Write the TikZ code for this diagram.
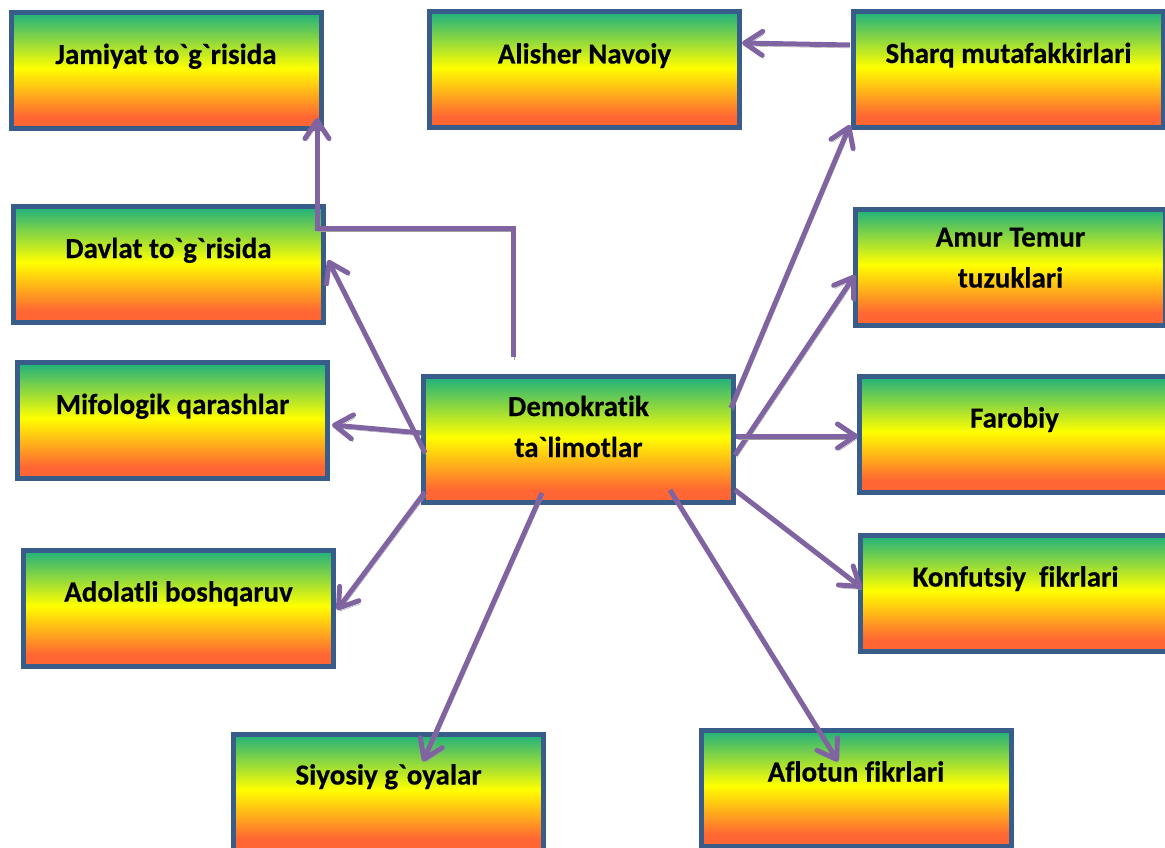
\documentclass[tikz,border=0pt]{standalone}
\usepackage{fontspec}
\newfontfamily\boxfont{Carlito}[Ligatures={TeXOff,CommonOff}, BoldFeatures={FakeBold=0.4}]
\usetikzlibrary{arrows.meta,positioning}

\definecolor{boxblue}{RGB}{56,93,138}
\definecolor{linkpurple}{RGB}{128,100,162}
\definecolor{topgreen}{RGB}{28,176,126}
\definecolor{botred}{RGB}{255,102,51}
\definecolor{shadowgray}{RGB}{160,160,160}

% green on top, yellow in the middle, red-orange at the bottom
\pgfdeclareverticalshading{boxfill}{100bp}{color(0bp)=(botred); color(25bp)=(botred); color(30bp)=(botred); color(51bp)=(yellow); color(75bp)=(topgreen); color(100bp)=(topgreen)}

\tikzset{
  box/.style={draw=boxblue, line width=5pt, shade, shading=boxfill,
    minimum width=310pt, minimum height=116pt, inner sep=0pt},
  boxtext/.style={font=\boxfont\bfseries\fontsize{29}{41}\selectfont,
    align=center, inner sep=0pt, anchor=base},
  link/.style={draw=linkpurple, line width=5pt,
    -{Straight Barb[length=18pt,width=24pt,round]},
    preaction={draw=shadowgray, transform canvas={shift={(1.5pt,-3pt)}}}}
}

\begin{document}
\begin{tikzpicture}[x=1pt,y=-1pt]
\useasboundingbox (0,0) rectangle (1165,848);

% Boxes
\node[box] (jamiyat) at (166,70.5) {};
\node[box] (navoiy) at (584.5,70) {};
\node[box] (sharq) at (1008.5,69.5) {};
\node[box] (davlat) at (168.5,264.5) {};
\node[box] (amur) at (1010.5,267) {};
\node[box] (mifologik) at (172.5,420.5) {};
\node[box, minimum height=126pt] (demo) at (578.5,439.5) {};
\node[box] (farobiy) at (1014.5,434) {};
\node[box] (adolatli) at (178.5,608) {};
\node[box] (konfutsiy) at (1015.5,593) {};
\node[box] (siyosiy) at (388.5,792) {};
\node[box] (aflotun) at (856,788) {};

% Texts (anchored at the baseline of the last line)
\node[boxtext] (jamiyat-t) at ([yshift=-54pt]jamiyat.north) {Jamiyat to`g`risida};
\node[boxtext] (navoiy-t) at ([yshift=-54pt]navoiy.north) {Alisher Navoiy};
\node[boxtext] (sharq-t) at ([yshift=-54pt]sharq.north) {Sharq mutafakkirlari};
\node[boxtext] (davlat-t) at ([yshift=-54pt]davlat.north) {Davlat to`g`risida};
\node[boxtext] (amur-t) at ([yshift=-81pt]amur.north) {Amur Temur\\tuzuklari};
\node[boxtext] (mifologik-t) at ([yshift=-54pt]mifologik.north) {Mifologik qarashlar};
\node[boxtext] (demo-t) at ([yshift=-83pt]demo.north) {Demokratik\\ta`limotlar};
\node[boxtext] (farobiy-t) at ([yshift=-54pt]farobiy.north) {Farobiy};
\node[boxtext] (adolatli-t) at ([yshift=-54pt]adolatli.north) {Adolatli boshqaruv};
\node[boxtext] (konfutsiy-t) at ([yshift=-54pt]konfutsiy.north) {Konfutsiy\ \ fikrlari};
\node[boxtext] (siyosiy-t) at ([yshift=-53pt]siyosiy.north) {Siyosiy g`oyalar};
\node[boxtext] (aflotun-t) at ([yshift=-54pt]aflotun.north) {Aflotun fikrlari};

% Links
\coordinate (demo-up) at ([shift={(-65.5,-17)}]demo.north);
\draw[link] (demo-up) -- ++(0,-129) -| ([shift={(-6.5,-13)}]jamiyat.south east);
\draw[link] ([shift={(-1,-24.5)}]sharq.west) -- ([shift={(0,-27)}]navoiy.east);
\draw[link] ([shift={(-5,-31.5)}]demo.east) -- ([shift={(-1,-5)}]sharq.south west);
\draw[link] ([shift={(-1,15.5)}]demo.east) -- ([shift={(2,8)}]amur.west);
\draw[link] ([shift={(0,-3.5)}]demo.east) -- ([shift={(1,2)}]farobiy.west);
\draw[link] ([shift={(-1,-15)}]demo.south east) -- ([shift={(4,-5)}]konfutsiy.west);
\draw[link] ([shift={(91.5,-15)}]demo.south) -- ([shift={(-18,34)}]aflotun.north);
\draw[link] ([shift={(-36.5,-12)}]demo.south) -- ([shift={(34.5,30)}]siyosiy.north);
\draw[link] ([shift={(4,-13)}]demo.south west) -- ([shift={(1,2)}]adolatli.east);
\draw[link] ([shift={(0,-6.5)}]demo.west) -- ([shift={(2,4.5)}]mifologik.east);
\draw[link] ([shift={(4,13.5)}]demo.west) -- ([shift={(2,-4.5)}]davlat.east);

\end{tikzpicture}
\end{document}
